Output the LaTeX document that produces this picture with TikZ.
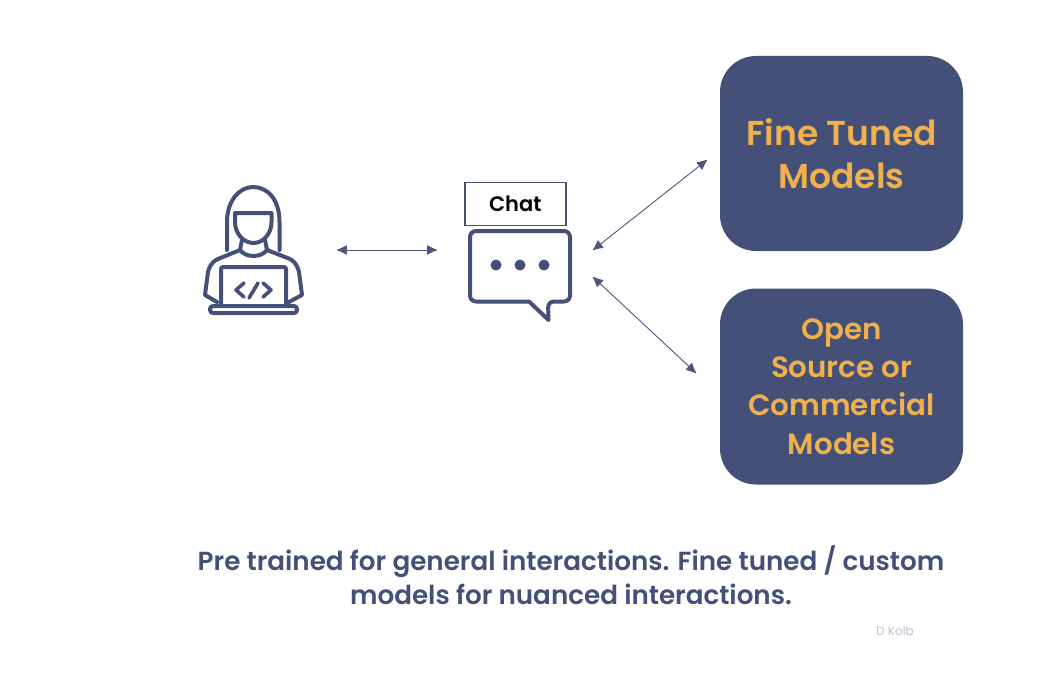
\documentclass[tikz,border=0pt]{standalone}
\usepackage{fontspec}
\setmainfont{Poppins}[BoldFont={Poppins SemiBold}]
\usetikzlibrary{arrows.meta}
\definecolor{navy}{HTML}{445078}
\definecolor{gold}{HTML}{EFB04E}
\tikzset{
 x=1pt,y=-1pt,
 model/.style={draw=none,fill=navy,rounded corners=36pt,minimum width=243pt,text=gold,font=\bfseries\fontsize{34.5}{43}\selectfont,align=center,inner sep=0pt},
 biarrow/.style={draw=navy!85!gray,line width=.9pt,{Latex[length=11pt,width=10pt,round]}-{Latex[length=11pt,width=10pt,round]}},
 icon/.style={draw=navy,line width=4pt,line cap=round,line join=round},
 caption/.style={text=navy,font=\bfseries\fontsize{26.2}{34}\selectfont,align=center,inner sep=0pt},
}
\begin{document}
\begin{tikzpicture}
\useasboundingbox (0,0) rectangle (1043,685);
% models
\node[model,minimum height=195pt] (fine) at (841.5,153.5) {Fine Tuned\\Models};
\node[model,minimum height=196pt,font=\bfseries\fontsize{29.3}{38.3}\selectfont] (open) at (841.5,386.5) {Open\\Source or\\Commercial\\Models};
% chat
\node[draw=navy,line width=1.4pt,minimum width=101pt,minimum height=43pt,inner sep=0pt,font=\bfseries\fontsize{21}{24}\selectfont] (chat) at (515.3,204) {Chat};
\draw[icon,rounded corners=6pt] (470,231) -- (570,231) -- (570,301.5) -- (548,301.5) [sharp corners] -- (548.5,320) -- (529,301.5) [rounded corners=6pt] -- (470,301.5) -- cycle;
\foreach \px in {496,520,544} \fill[navy] (\px,265) circle (5.5pt);
% person
\draw[icon] (227,250) -- (227,222) .. controls (227,200) and (240,187) .. (253,187) .. controls (268,187) and (279.5,200) .. (279.5,222) -- (279.5,250);
\draw[icon] (235,213) -- (271.5,213) -- (271.5,222) .. controls (271.5,234) and (263,243) .. (253.5,243) .. controls (244,243) and (235,234) .. (235,222) -- cycle;
\draw[icon] (242,240) -- (240,250) .. controls (246,258) and (261,258) .. (267,250) -- (265,240);
\draw[icon] (240,250) -- (218,259) .. controls (211,262) and (209,268) .. (208,272) -- (205,295) -- (217,302);
\draw[icon] (267,250) -- (290,259) .. controls (296,262) and (298,268) .. (299,272) -- (302,295) -- (289,302);
\draw[icon,rounded corners=2pt] (221,305) -- (221,267) -- (286,267) -- (286,305);
\draw[icon,rounded corners=3pt] (210,306) -- (297,306) -- (297,313) -- (210,313) -- cycle;
\draw[icon,line width=3.6pt] (244,283) -- (236,290) -- (244,297);
\draw[icon,line width=3.6pt] (263,283) -- (271,290) -- (263,297);
\draw[icon,line width=3.6pt] (258,283) -- (249,298);
% connectors
\coordinate (pr) at (337,250);
\coordinate (cl) at (437,250);
\coordinate (c1) at (593,250);
\coordinate (f1) at (707,160);
\coordinate (c2) at (593,277);
\coordinate (o1) at (696,373);
\draw[biarrow] (pr) -- (cl);
\draw[biarrow] (c1) -- (f1);
\draw[biarrow] (c2) -- (o1);
% caption
\node[caption] (cap) at (571,575) {Pre trained for general interactions. Fine tuned / custom\\models for nuanced interactions.};
\node[text=navy!35,font=\fontsize{12}{14}\selectfont,inner sep=0pt] (sig) at (895,631) {D Kolb};
\end{tikzpicture}
\end{document}
